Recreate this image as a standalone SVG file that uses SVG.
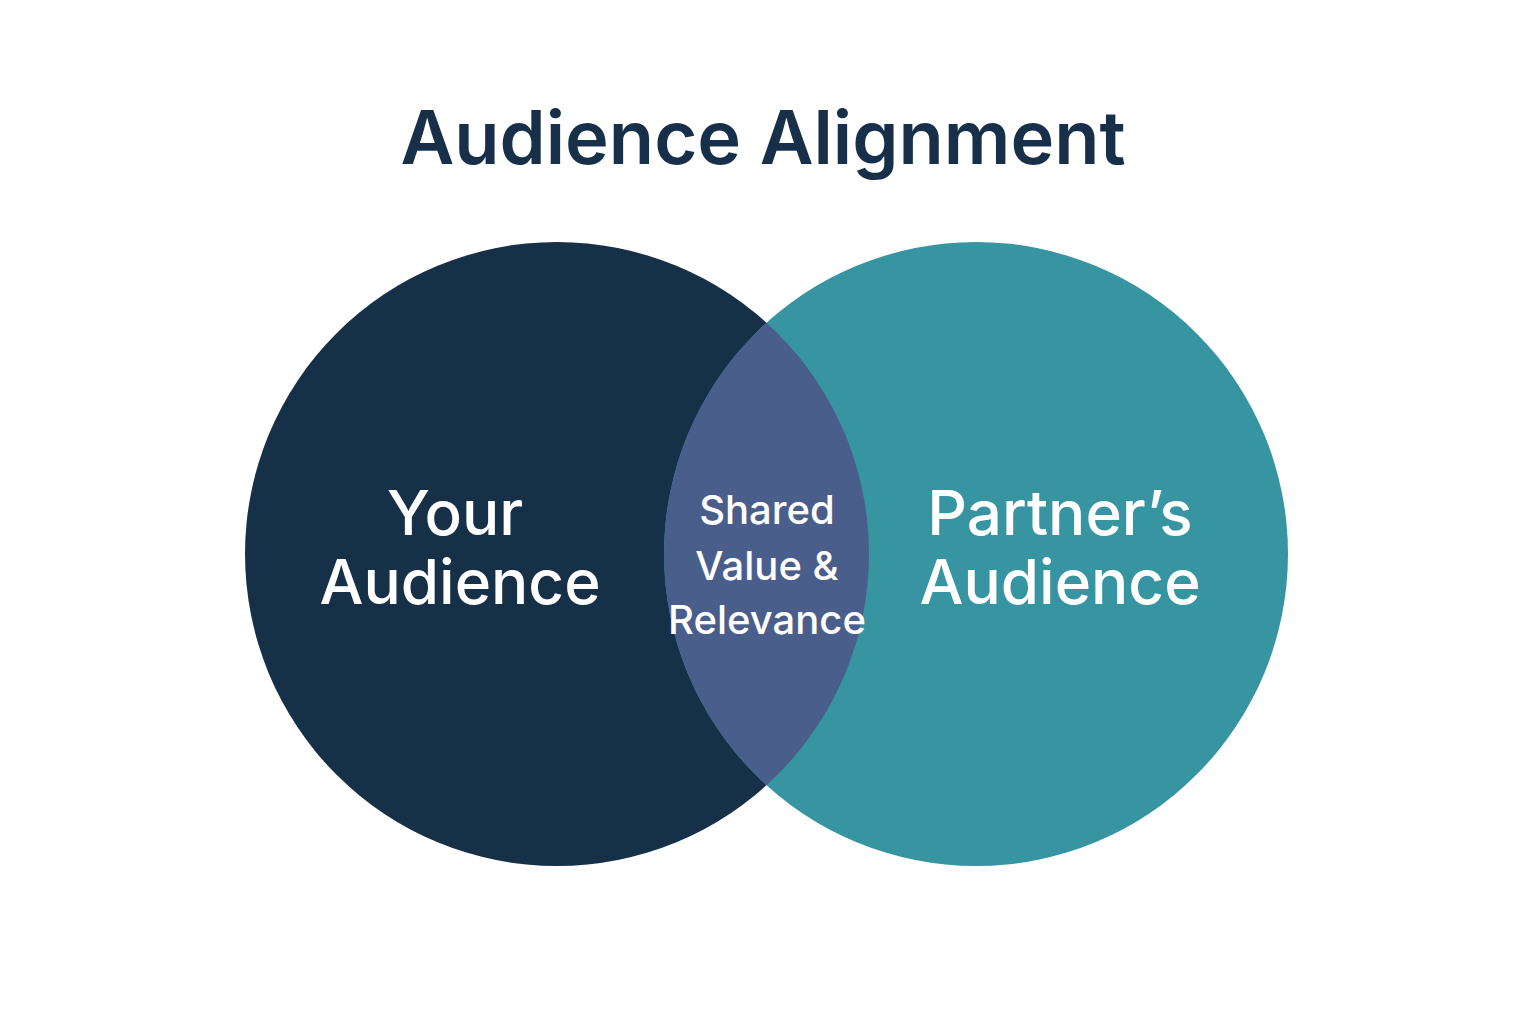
<svg xmlns="http://www.w3.org/2000/svg" width="1536" height="1024" viewBox="0 0 1536 1024">
<style>
.t{font-family:Inter,"Liberation Sans",sans-serif;fill:#fff;text-anchor:middle;font-weight:500}
</style>
<defs><clipPath id="cl"><circle cx="557" cy="554" r="312"/></clipPath></defs>
<rect width="1536" height="1024" fill="#fff"/>
<text x="763" y="164" font-family="Inter,'Liberation Sans',sans-serif" font-size="74" font-weight="600" fill="#172f48" text-anchor="middle">Audience Alignment</text>
<g id="your"><circle cx="557" cy="554" r="312" fill="#163047"/>
<text class="t" font-size="62"><tspan x="455" y="535">Your</tspan><tspan x="460" y="604">Audience</tspan></text></g>
<g id="partner"><circle cx="976" cy="554" r="312" fill="#3795a1"/>
<text class="t" font-size="62"><tspan x="1060" y="535">Partner’s</tspan><tspan x="1060" y="604">Audience</tspan></text></g>
<g id="shared"><circle cx="976" cy="554" r="312" fill="#4a5e8c" clip-path="url(#cl)"/>
<text class="t" font-size="40"><tspan x="767" y="524">Shared</tspan><tspan x="767" y="580">Value &amp;</tspan><tspan x="767" y="634">Relevance</tspan></text></g>
<g id="connectors"/>
</svg>
